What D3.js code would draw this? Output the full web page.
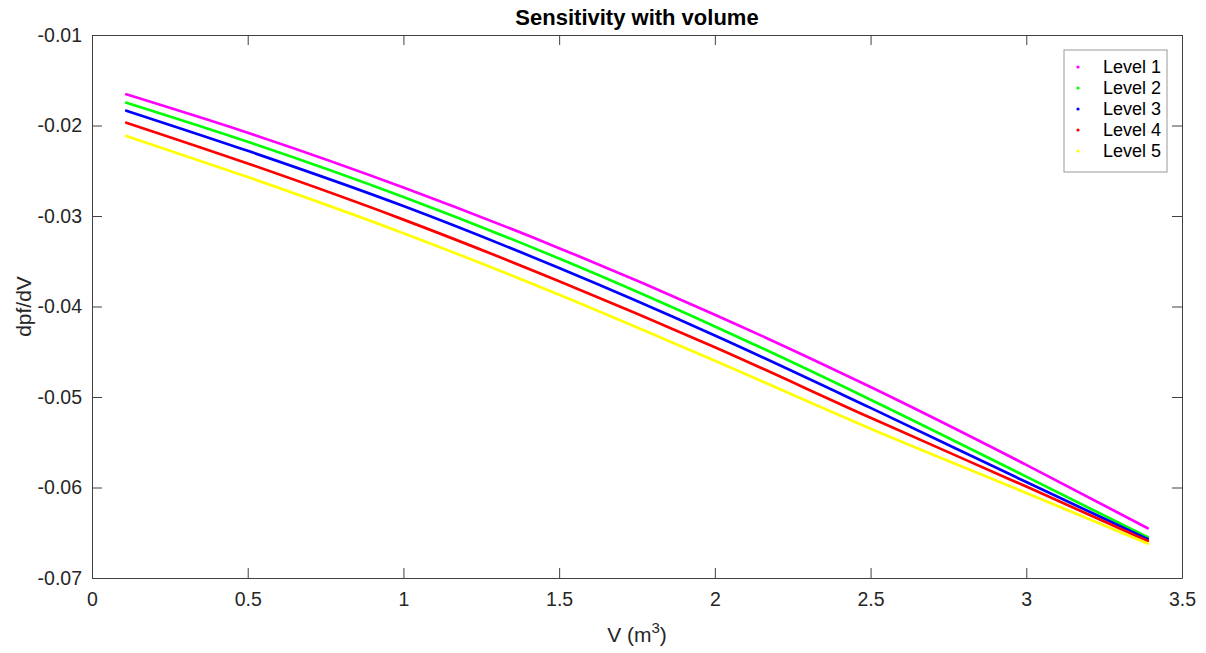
<!DOCTYPE html>
<html lang="en">
<head>
<meta charset="UTF-8">
<title>Sensitivity with volume</title>
<script src="https://d3js.org/d3.v7.min.js"></script>
<style>
    body { margin: 0; background: #fff; font-family: Arial, "Liberation Sans", sans-serif; }
    svg { display: block; }
</style>
</head>
<body>
<svg id="chart" width="1206" height="653"></svg>
<script>
const vol = [0.11, 0.5, 1.0, 1.5, 2.0, 2.5, 3.0, 3.39];
const level1 = [-0.01655, -0.0208, -0.02685, -0.03355, -0.0409, -0.0489, -0.0575, -0.0645];
const level2 = [-0.01748, -0.0218, -0.02790, -0.03470, -0.0422, -0.0503, -0.0588, -0.0655];
const level3 = [-0.01836, -0.0228, -0.02890, -0.03575, -0.0432, -0.0512, -0.0594, -0.0657];
const level4 = [-0.01969, -0.0242, -0.03040, -0.03720, -0.0445, -0.0523, -0.0599, -0.0659];
const level5 = [-0.02116, -0.0257, -0.03190, -0.03870, -0.0460, -0.0535, -0.0606, -0.0662];
const names = ["Level 1", "Level 2", "Level 3", "Level 4", "Level 5"];
const colors = ["#ff00ff", "#00ff00", "#0000ff", "#ff0000", "#ffff00"];
const xTicks = [0, 0.5, 1, 1.5, 2, 2.5, 3, 3.5];
const yTicks = [-0.07, -0.06, -0.05, -0.04, -0.03, -0.02, -0.01];

const series = [level1, level2, level3, level4, level5];
const plot = { left: 92, right: 1182, top: 35, bottom: 578 };
const axisColor = "#404040";
const font = "Arial, 'Liberation Sans', sans-serif";

const svg = d3.select("#chart");

const x = d3.scaleLinear().domain([0, 3.5]).range([plot.left, plot.right]);
const y = d3.scaleLinear().domain([-0.07, -0.01]).range([plot.bottom, plot.top]);

// box with inward ticks on all four sides
svg.append("g")
    .attr("transform", `translate(0,${plot.bottom})`)
    .call(d3.axisBottom(x).tickValues(xTicks).tickSizeInner(-10).tickSizeOuter(0).tickPadding(14).tickFormat(d => String(d)))
    .call(g => g.select(".domain").attr("stroke", axisColor))
    .call(g => g.selectAll(".tick line").attr("stroke", axisColor))
    .call(g => g.selectAll("text").attr("fill", "#262626").style("font-size", "19.5px").style("font-family", font));

svg.append("g")
    .attr("transform", `translate(0,${plot.top})`)
    .call(d3.axisTop(x).tickValues(xTicks).tickSizeInner(-10).tickSizeOuter(0).tickFormat(""))
    .call(g => g.select(".domain").attr("stroke", axisColor))
    .call(g => g.selectAll(".tick line").attr("stroke", axisColor));

svg.append("g")
    .attr("transform", `translate(${plot.left},0)`)
    .call(d3.axisLeft(y).tickValues(yTicks).tickSizeInner(-10).tickSizeOuter(0).tickPadding(10).tickFormat(d => String(d)))
    .call(g => g.select(".domain").attr("stroke", axisColor))
    .call(g => g.selectAll(".tick line").attr("stroke", axisColor))
    .call(g => g.selectAll("text").attr("fill", "#262626").style("font-size", "19.5px").style("font-family", font));

svg.append("g")
    .attr("transform", `translate(${plot.right},0)`)
    .call(d3.axisRight(y).tickValues(yTicks).tickSizeInner(-10).tickSizeOuter(0).tickFormat(""))
    .call(g => g.select(".domain").attr("stroke", axisColor))
    .call(g => g.selectAll(".tick line").attr("stroke", axisColor));

// lines
const line = d3.line()
    .x((d, i) => x(vol[i]))
    .y(d => y(d))
    .curve(d3.curveMonotoneX);

series.forEach((s, i) => {
    svg.append("path")
        .attr("d", line(s))
        .attr("fill", "none")
        .attr("stroke", colors[i])
        .attr("stroke-width", 2.7)
        .attr("stroke-linecap", "round");
});

// titles
svg.append("text")
    .attr("x", (plot.left + plot.right) / 2)
    .attr("y", 25)
    .attr("text-anchor", "middle")
    .style("font-size", "22px")
    .style("font-weight", "bold")
    .attr("fill", "#000")
    .text("Sensitivity with volume");

const xl = svg.append("text")
    .attr("x", (plot.left + plot.right) / 2)
    .attr("y", 642)
    .attr("text-anchor", "middle")
    .style("font-size", "21px")
    .attr("fill", "#262626");
xl.append("tspan").text("V (m");
xl.append("tspan").attr("dy", -9).style("font-size", "15px").text("3");
xl.append("tspan").attr("dy", 9).text(")");

svg.append("text")
    .attr("transform", `translate(31,${(plot.top + plot.bottom) / 2}) rotate(-90)`)
    .attr("text-anchor", "middle")
    .style("font-size", "21px")
    .attr("fill", "#262626")
    .text("dpf/dV");

// legend
const legend = svg.append("g");
legend.append("rect")
    .attr("x", 1064).attr("y", 50)
    .attr("width", 103).attr("height", 122)
    .attr("fill", "#fff")
    .attr("stroke", "#999")
    .attr("stroke-width", 1);

names.forEach((n, i) => {
    const ly = 67 + i * 21;
    legend.append("circle")
        .attr("cx", 1078).attr("cy", ly)
        .attr("r", 1.6)
        .attr("fill", colors[i]);
    legend.append("text")
        .attr("x", 1103).attr("y", ly)
        .attr("dy", "0.35em")
        .style("font-size", "18px")
        .attr("fill", "#000")
        .text(n);
});
</script>
</body>
</html>
